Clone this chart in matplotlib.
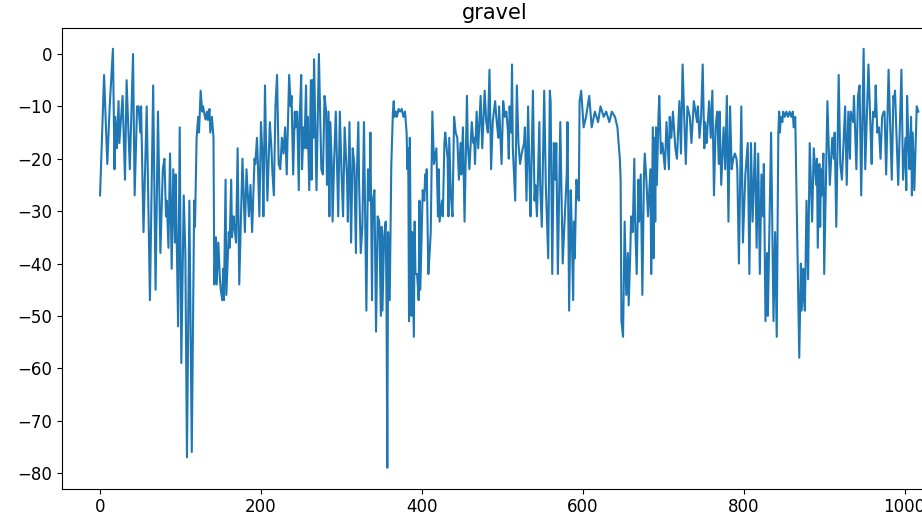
import matplotlib
matplotlib.use("Agg")
import matplotlib.pyplot as plt

# Serie (índice, valor)
t = [0, 5, 9, 12, 16, 18, 19, 21, 23, 24, 28, 31, 33, 37, 41, 43, 46, 48, 50, 51,
     54, 58, 62, 66, 69, 72, 75, 78, 80, 82, 83, 85, 87, 89, 91, 93, 94, 97, 99, 101,
     104, 106, 108, 111, 114, 117, 118, 120, 122, 123, 125, 127, 128, 131, 133, 134, 136, 137, 139, 141,
     142, 144, 145, 147, 149, 150, 152, 153, 154, 156, 157, 160, 161, 163, 164, 166, 167, 169, 171, 173,
     177, 180, 182, 183, 185, 187, 189, 192, 193, 195, 196, 198, 200, 202, 203, 205, 206, 208, 211, 213,
     214, 216, 218, 220, 222, 224, 226, 228, 230, 232, 235, 237, 238, 240, 242, 243, 245, 247, 248, 250,
     251, 253, 254, 256, 257, 258, 260, 262, 263, 264, 265, 266, 269, 272, 275, 277, 279, 281, 282, 284,
     285, 286, 288, 289, 291, 293, 296, 298, 300, 302, 304, 307, 308, 310, 312, 314, 316, 318, 319, 321,
     322, 324, 326, 328, 331, 333, 335, 336, 338, 339, 341, 343, 345, 347, 349, 350, 351, 353, 355, 356,
     357, 358, 360, 362, 364, 365, 366, 368, 369, 371, 373, 375, 377, 379, 381, 382, 383, 384, 385, 386,
     387, 388, 390, 391, 392, 394, 396, 397, 398, 400, 401, 403, 404, 405, 406, 408, 410, 411, 413, 415,
     417, 418, 420, 421, 422, 425, 426, 428, 429, 432, 433, 434, 436, 438, 440, 442, 444, 446, 448, 449,
     451, 453, 456, 457, 459, 462, 464, 465, 466, 468, 470, 473, 475, 478, 480, 482, 484, 486, 488, 491,
     493, 495, 496, 499, 501, 503, 505, 507, 508, 509, 511, 512, 513, 516, 518, 520, 522, 524, 527, 528,
     530, 532, 534, 535, 538, 540, 541, 543, 546, 547, 549, 552, 554, 557, 559, 560, 562, 564, 566, 567,
     569, 572, 575, 577, 580, 581, 583, 585, 586, 588, 589, 590, 592, 594, 595,
     596, 598, 601, 604, 608, 611, 615, 619, 622, 626, 629, 633, 636, 640, 643, 646, 647,
     648, 650, 652, 654, 656, 657, 659, 660, 662, 664, 665, 667, 669, 670, 672, 674, 676, 677, 679, 681,
     682, 684, 685, 687, 688, 689, 690, 691, 692, 694, 695, 697, 699, 702, 704, 707, 708, 710, 712, 715,
     717, 720, 722, 724, 726, 728, 730, 733, 735, 738, 740, 742, 743, 745, 747, 749, 751, 752, 754, 755,
     757, 759, 761, 763, 765, 767, 769, 770, 772, 775, 777, 779, 781, 783, 785, 787, 789, 791, 792, 794,
     797, 799, 802, 805, 807, 809, 811, 814, 816, 818, 820, 822, 824, 825, 827, 829, 830, 832, 834, 837,
     839, 841, 843, 844, 845, 846, 848, 849, 851, 853, 855, 857, 859, 861, 862, 864, 869, 871, 872, 874,
     875, 876, 878, 880, 882, 885, 887, 890, 891, 892, 894, 895, 896, 897, 899, 900, 904, 907, 910, 912,
     913, 915, 918, 920, 922, 926, 928, 930, 932, 933, 936, 937, 940, 942, 944, 946, 949, 951, 955, 959,
     960, 961, 963, 964, 966, 968, 970, 972, 974, 975, 977, 980, 984, 986, 987, 988, 992, 996, 998, 1001,
     1002, 1003, 1005, 1006, 1008, 1009, 1010, 1012, 1015, 1017]
v = [-27, -4, -21, -10, 1, -22, -12, -18, -9, -17, -8, -24, -5, -22, 0, -27, -10, -10, -15, -10,
     -34, -10, -47, -6, -45, -11, -38, -22, -20, -31, -28, -37, -19, -41, -22, -36, -23, -52, -14, -59,
     -27, -38, -77, -28, -76, -28, -33, -16, -12, -15, -7, -11, -10, -12.5, -11, -12.6, -10.5, -15, -12, -16,
     -44, -35, -44, -36, -43, -45, -47, -41, -47, -24, -46, -34, -37, -24, -35, -31, -33, -36, -18, -44,
     -20, -34, -22, -25, -31, -25, -34, -20, -21, -16, -20, -31, -13, -20, -31, -6, -15, -28, -13, -18,
     -22, -27, -10, -4, -21, -22, -16, -19, -14, -23, -4, -10, -8, -23, -11, -14, -11, -26, -13, -4,
     -22, -14, -18, -6, -18, -12, -26, -5, -24, -5, -16, -1, -26, 0, -22, -23, -8, -11, -25, -11,
     -31, -13, -21, -32, -20, -11, -31, -11, -22, -31, -14, -24, -32, -13, -36, -18, -21, -38, -24, -13,
     -25, -38, -33, -13, -49, -22, -28, -15, -47, -28, -26, -53, -31, -32, -50, -33, -49, -35, -32, -47,
     -79, -34, -47, -21, -11, -9, -12, -11, -12, -10.5, -11, -10.5, -12, -11, -15, -22, -18, -51, -16, -35,
     -50, -34, -54, -32, -42, -42, -47, -28, -45, -32, -26, -28, -23, -26, -22, -42, -37, -34, -11, -21,
     -19, -18, -31, -22, -32, -28, -31, -17, -15, -20, -31, -16, -27, -31, -12, -15, -16, -24, -17, -23,
     -14, -32, -8, -17, -22, -13, -17, -16, -21, -11, -18, -8, -18, -7, -13, -15, -3, -22, -13, -9,
     -13, -16, -10, -21, -9, -12, -11, -15, -20, -10, -15, -2, -18, -28, -6, -17, -21, -19, -17, -14,
     -28, -10, -25, -31, -7, -28, -25, -31, -13, -25, -33, -7, -25, -39, -7, -9, -42, -17, -24, -17,
     -42, -13, -40, -33, -23, -13, -49, -26, -32, -47, -32, -39, -24, -27, -28,
     -9, -7, -14, -12, -8, -14, -11, -13, -10, -12, -11, -13, -11, -12, -14, -20, -24,
     -51, -54, -32, -46, -38, -48, -38, -31, -34, -20, -32, -42, -24, -32, -23, -46, -23, -19, -24, -31,
     -28, -22, -42, -14, -39, -16, -32, -14, -25, -12, -8, -19, -17, -22, -13, -22, -12, -16, -11, -18,
     -20, -9, -19, -2, -12, -21, -10, -12, -17, -9, -11, -13, -10, -16, -12, -2, -18, -13, -17, -14,
     -9, -16, -7, -27, -14, -11, -21, -11, -25, -14, -22, -8, -32, -10, -22, -20, -19, -20, -22, -40,
     -10, -36, -23, -17, -42, -17, -32, -17, -37, -19, -42, -23, -31, -21, -51, -38, -50, -33, -15, -51,
     -34, -54, -15, -11, -15, -12, -13, -11, -12, -11, -12, -11, -12, -11, -14, -12, -58, -40, -49, -41,
     -47, -49, -28, -43, -17, -32, -18, -25, -20, -37, -21, -33, -22, -27, -19, -42, -9, -25, -16, -20,
     -15, -33, -4, -21, -24, -10, -25, -11, -20, -11, -13, -8, -22, -8, -6, -27, 1, -22, -2, -21,
     -14, -11, -12, -6, -15, -14, -20, -12, -11, -11, -23, -3, -24, -8, -9, -7, -25, -3, -24, -16,
     -26, -8, -18, -22, -12, -27, -15, -26, -10, -11]

fig = plt.figure(figsize=(9.22, 5.17), dpi=100)
# el marco derecho queda justo fuera de la imagen
ax = fig.add_axes([0.0675, 0.0547, 0.939, 0.8915])
ax.plot(t, v, color='#1f77b4', linewidth=1.5)
ax.set_xlim(-47, 1029)
ax.set_ylim(-83, 5)
ax.set_xticks([0, 200, 400, 600, 800, 1000])
ax.set_yticks(range(-80, 1, 10))
ax.tick_params(labelsize=12)
ax.set_title("gravel", fontsize=15)

fig.savefig("out.png", dpi=100)
